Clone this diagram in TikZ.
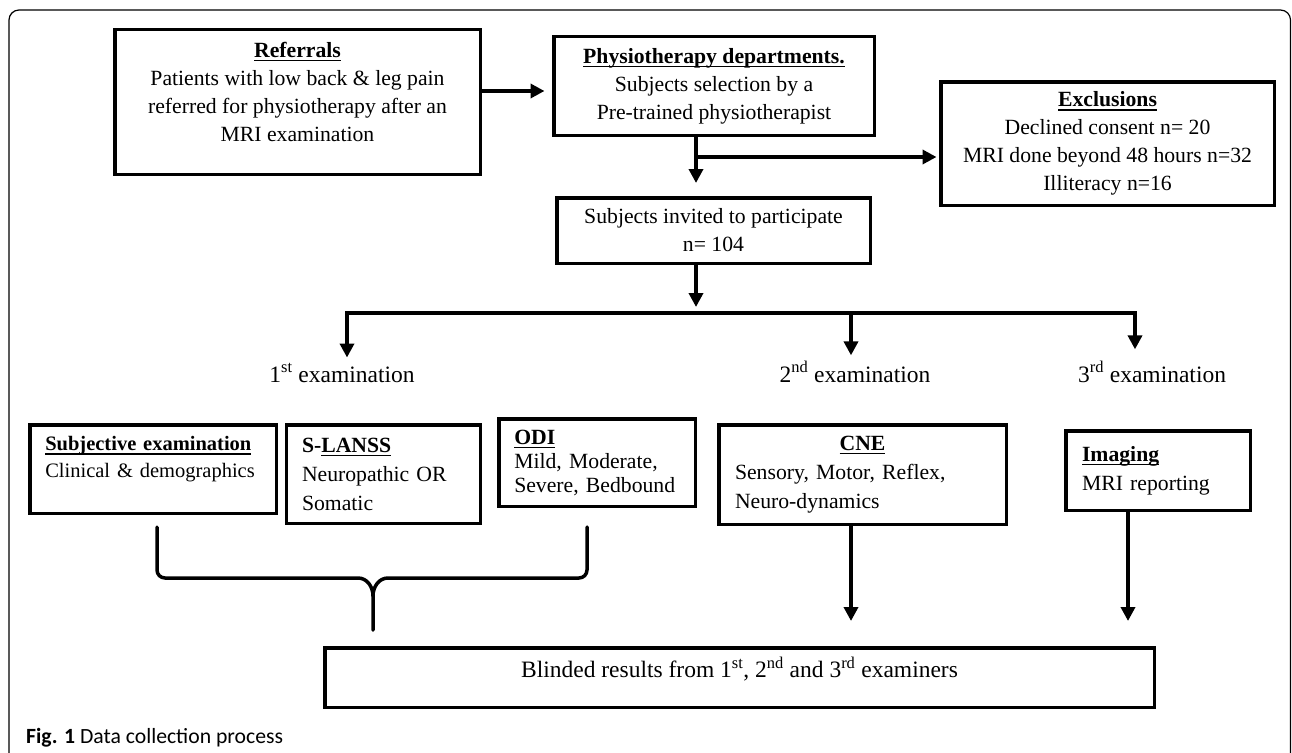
\documentclass[tikz,border=0pt]{standalone}
\usepackage{fontspec}
\setmainfont{Liberation Serif}
\newfontfamily\capfont{Carlito}
\usetikzlibrary{arrows.meta}
% bold heading, rule set through the descenders
\newcommand{\hdr}[1]{\setbox0\hbox{\textbf{#1}}\rlap{\rule[-4pt]{\wd0}{1.4pt}}\box0}

\begin{document}
\begin{tikzpicture}[x=1pt, y=-1pt,
  box/.style={draw, line width=3.5pt, inner sep=0pt, align=center, font=\fontsize{21.7}{28}\selectfont},
  lbox/.style={box, align=left, inner xsep=15.5pt},
  lbl/.style={font=\fontsize{23.5}{28}\selectfont, anchor=base, inner sep=2pt},
  link/.style={line width=3.5pt},
  arr/.style={link, -{Triangle[length=14pt, width=14pt]}},
  brace/.style={line width=3.5pt, line join=round, line cap=round}]
  \useasboundingbox (0,0) rectangle (1292,752);
  \clip (0,0) rectangle (1292,752);

  % outer frame
  \draw[line width=1.2pt, rounded corners=10pt] (9,790) -- (9,10) -- (1290.5,10) -- (1290.5,790);

  % top row
  \node[box, minimum width=365.5pt, minimum height=144.5pt] (ref) at (297.5,102)
    {\hdr{Referrals}\\Patients with low back \& leg pain\\referred for physiotherapy after an\\MRI examination\\[-7pt]\mbox{}};
  \node[box, minimum width=320.5pt, minimum height=98.5pt] (phys) at (714,86)
    {\hdr{Physiotherapy departments.}\\Subjects selection by a\\Pre-trained physiotherapist};
  \node[box, minimum width=333.5pt, minimum height=123.5pt] (excl) at (1107.5,143.5)
    {\hdr{Exclusions}\\Declined consent n= 20\\MRI done beyond 48 hours n=32\\Illiteracy n=16};
  \node[box, minimum width=313.5pt, minimum height=65.5pt] (inv) at (713.5,230.5)
    {Subjects invited to participate\\n= 104};

  % examinations
  \node[lbl] (ex1) at (342,382) {1\textsuperscript{st} examination};
  \node[lbl] (ex2) at (855,382) {2\textsuperscript{nd} examination};
  \node[lbl] (ex3) at (1152,382) {3\textsuperscript{rd} examination};

  \node[lbox, text width=215.5pt, minimum height=88.5pt, font=\fontsize{20.5}{27}\selectfont] (subj) at (153,469)
    {\hdr{Subjective examination}\\Clinical \& demographics\\[-3pt]\mbox{}};
  \node[lbox, text width=163pt, minimum height=98.5pt, font=\fontsize{21.7}{29}\selectfont] (slanss) at (383.5,474)
    {\textbf{S-}\hdr{LANSS}\\Neuropathic OR\\Somatic};
  \node[lbox, text width=165.5pt, minimum height=87.5pt, font=\fontsize{21.7}{24}\selectfont] (odi) at (597,462.5)
    {\hdr{ODI}\\Mild, Moderate,\\Severe, Bedbound};
  \node[lbox, text width=255pt, minimum height=99.5pt, font=\fontsize{21.7}{29}\selectfont, inner xsep=16.25pt] (cne) at (862.5,474.5)
    {\makebox[255pt]{\hdr{CNE}}\\Sensory, Motor, Reflex,\\Neuro-dynamics};
  \node[lbox, text width=152pt, minimum height=79.5pt, font=\fontsize{21.7}{29}\selectfont, inner xsep=16.25pt] (img) at (1158,470.5)
    {\hdr{Imaging}\\MRI reporting};

  \node[box, minimum width=829.5pt, minimum height=59.5pt, text depth=20pt, font=\fontsize{23.5}{28}\selectfont] (blind) at (739.5,677.5)
    {Blinded results from 1\textsuperscript{st}, 2\textsuperscript{nd} and 3\textsuperscript{rd} examiners};

  % caption
  \node[anchor=base west, inner sep=0pt, font=\capfont\fontsize{21.7}{26}\selectfont] (cap) at (26,743)
    {\textbf{Fig. 1} Data collection process};

  % connectors
  \coordinate (ra) at (0,91);
  \coordinate (split) at (696,157);
  \coordinate (hub) at (696,313);
  \coordinate (b1) at (347,313);
  \coordinate (b2) at (851,313);
  \coordinate (b3) at (1135,313);
  \coordinate (b4) at (1128,600);

  \draw[arr, shorten >=7.5pt] (ref.east |- ra) -- (phys.west |- ra);
  \draw[link] (phys.south -| split) -- (split);
  \draw[arr, shorten >=13pt] (split) -- (inv.north -| split);
  \draw[arr, shorten >=2.5pt] (split) -- (excl.west |- split);
  \draw[arr, shorten >=6pt] (inv.south -| hub) -- (hub);
  \draw[arr, shorten >=4pt] (hub) -| (b1 |- ex1.north);
  \draw[arr, shorten >=10pt] (hub) -| (b3 |- ex3.north);
  \draw[arr, shorten >=4pt] (b2) -- (b2 |- ex2.north);
  \draw[arr, shorten >=25pt] (cne.south -| b2) -- (blind.north -| b2);
  \draw[arr, shorten >=25pt] (img.south -| b4) -- (blind.north -| b4);

  % brace under the first examination
  \draw[brace] (157,527) -- (157,570) to[out=-90,in=180] (165,578) -- (358,578) to[out=0,in=90] (373,596) -- (373,630);
  \draw[brace] (587,527) -- (587,570) to[out=-90,in=0] (579,578) -- (388,578) to[out=180,in=90] (373,596);
\end{tikzpicture}
\end{document}
